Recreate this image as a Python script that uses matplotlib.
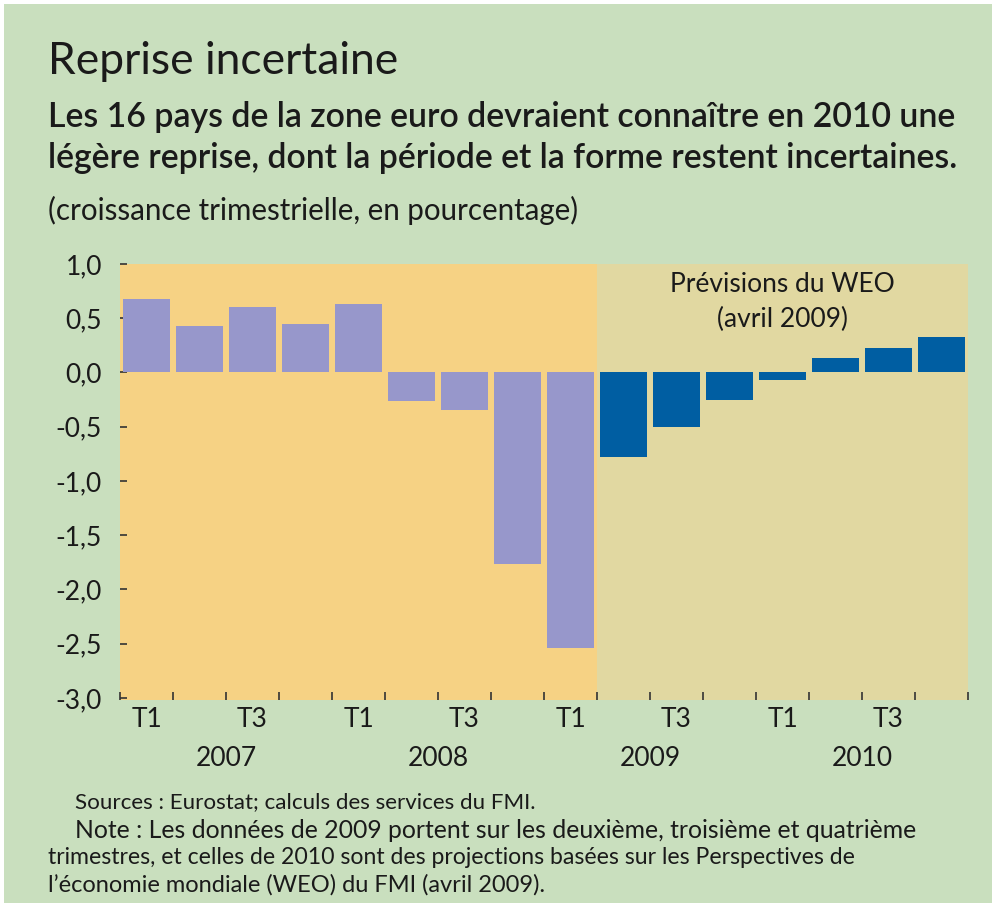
import matplotlib.pyplot as plt
from matplotlib.patches import Rectangle
from matplotlib.transforms import blended_transform_factory

W, H = 994, 909

# data: quarterly growth, euro area (%)
quarters = ["T1", "T2", "T3", "T4"] * 4
years = ["2007", "2008", "2009", "2010"]
actual = [0.68, 0.43, 0.60, 0.45, 0.63, -0.26, -0.35, -1.77, -2.54]
forecast = [-0.78, -0.50, -0.25, -0.07, 0.13, 0.23, 0.33]
yticks = [1.0, 0.5, 0.0, -0.5, -1.0, -1.5, -2.0, -2.5, -3.0]

GREEN = "#c9dfbe"
ORANGE = "#f6d284"
TAN = "#e1d8a1"
PURPLE = "#9797cb"
BLUE = "#005ea2"
TXT = "#1a1a1a"
FONT = ["Lato", "DejaVu Sans"]


def px(x, y):
    return x / W, 1 - y / H


fig = plt.figure(figsize=(W / 100, H / 100), dpi=100, facecolor="white")
fig.patches.append(Rectangle(px(4, 903), 988 / W, 899 / H, transform=fig.transFigure,
                             facecolor=GREEN, edgecolor="none", zorder=-10))
renderer = fig.canvas.get_renderer()


def fit_text(x0, x1, y, s, size, **kw):
    # shrink/grow the font so the line spans the same width as in the original
    t = fig.text(*px(x0, y), s, fontsize=size, color=TXT, family=FONT,
                 va="center", ha="left", **kw)
    w = t.get_window_extent(renderer).width
    t.set_fontsize(size * (x1 - x0) / w)
    return t


ax_l, ax_r, ax_t, ax_b = 120, 968, 264, 700
ax = fig.add_axes([ax_l / W, 1 - ax_b / H, (ax_r - ax_l) / W, (ax_b - ax_t) / H])
ax.set_facecolor("none")
for s in ax.spines.values():
    s.set_visible(False)

n_act = len(actual)
x_act = list(range(n_act))
x_fc = list(range(n_act, n_act + len(forecast)))
ax.axvspan(-0.5, n_act - 0.5, color=ORANGE, zorder=0, lw=0)
ax.axvspan(n_act - 0.5, n_act + len(forecast) - 0.5, color=TAN, zorder=0, lw=0)
ax.bar(x_act, actual, width=0.9, color=PURPLE, zorder=2)
ax.bar(x_fc, forecast, width=0.9, color=BLUE, zorder=2)

n = len(quarters)
ax.set_xlim(-0.5, n - 0.5)
ax.set_ylim(-3.02, 1.0)

ax.set_yticks(yticks)
ax.set_yticklabels([f"{v:.1f}".replace(".", ",") for v in yticks], fontsize=19,
                   color=TXT, family=FONT)
ax.tick_params(axis="y", direction="in", length=5, width=1.2, color="#333333", pad=13)

ax.set_xticks([i - 0.5 for i in range(n + 1)])
ax.set_xticklabels([])
ax.tick_params(axis="x", which="major", direction="in", length=6, width=1.2, color="#333333")
ax.set_xticks([i for i in range(n) if i % 2 == 0], minor=True)
ax.set_xticklabels([quarters[i] for i in range(n) if i % 2 == 0], minor=True,
                   fontsize=19, color=TXT, family=FONT)
ax.tick_params(axis="x", which="minor", length=0, pad=5)

tr = blended_transform_factory(ax.transData, fig.transFigure)
for k, yr in enumerate(years):
    ax.text(4 * k + 1.5, px(0, 759)[1], yr, transform=tr, ha="center", va="center",
            fontsize=19, color=TXT, family=FONT)

ax.text(12, 0.65, "Prévisions du WEO\n(avril 2009)", ha="center", va="center",
        fontsize=19, color=TXT, family=FONT, linespacing=1.45, zorder=3)

fit_text(48, 398, 62, "Reprise incertaine", 27)
fit_text(48, 955, 117, "Les 16 pays de la zone euro devraient connaître en 2010 une",
         22, fontweight="semibold")
fit_text(48, 958, 158, "légère reprise, dont la période et la forme restent incertaines.",
         22, fontweight="semibold")
fit_text(48, 578, 210, "(croissance trimestrielle, en pourcentage)", 18)

notes = [
    (75, 537, 802, "Sources : Eurostat; calculs des services du FMI."),
    (75, 918, 830, "Note : Les données de 2009 portent sur les deuxième, troisième et quatrième"),
    (48, 858, 858, "trimestres, et celles de 2010 sont des projections basées sur les Perspectives de"),
    (48, 547, 885, "l’économie mondiale (WEO) du FMI (avril 2009)."),
]
for x0, x1, y, t in notes:
    fit_text(x0, x1, y, t, 15)

fig.savefig("out.png", dpi=100, facecolor="white")
